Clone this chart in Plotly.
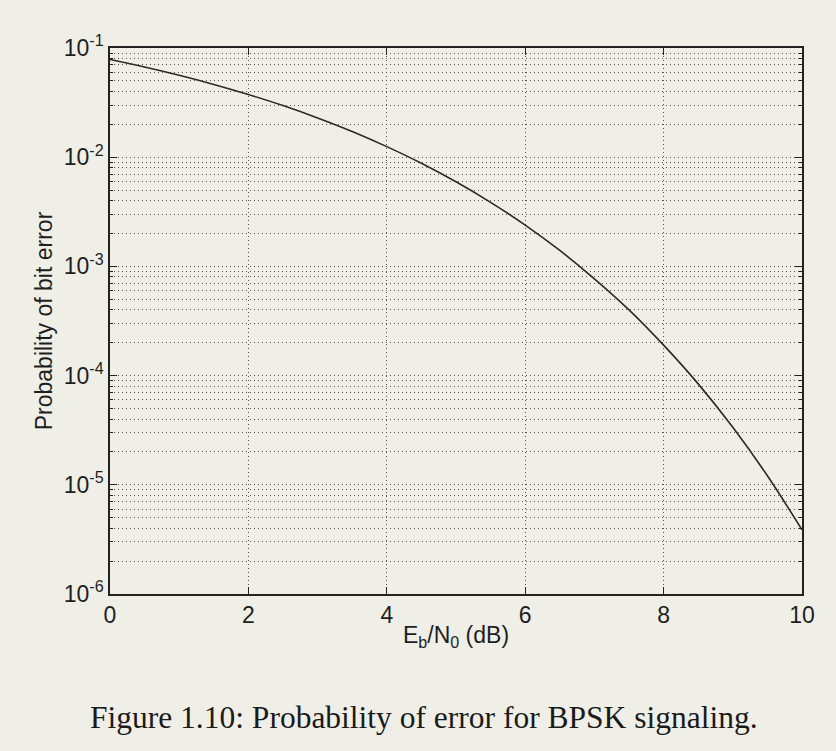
import plotly.graph_objects as go

# Eb/N0 in dB
ebn0_db = [0, 0.5, 1, 1.5, 2, 2.5, 3, 3.5, 4, 4.5, 5, 5.5, 6, 6.5, 7, 7.5, 8, 8.5, 9, 9.5, 10]
# probability of bit error
pb = [7.86e-2, 6.71e-2, 5.63e-2, 4.64e-2, 3.75e-2, 2.97e-2, 2.29e-2, 1.72e-2,
      1.25e-2, 8.8e-3, 5.95e-3, 3.86e-3, 2.39e-3, 1.40e-3, 7.7e-4, 4.0e-4,
      1.9e-4, 8.4e-5, 3.36e-5, 1.21e-5, 3.87e-6]

x_ticks = [0, 2, 4, 6, 8, 10]
y_ticks = [1e-6, 1e-5, 1e-4, 1e-3, 1e-2, 1e-1]
y_ticktext = ["10<sup>-6</sup>", "10<sup>-5</sup>", "10<sup>-4</sup>",
              "10<sup>-3</sup>", "10<sup>-2</sup>", "10<sup>-1</sup>"]

bg = "#efefe8"
gridc = "#555555"
gdash = "1px,3px"

fig = go.Figure()
fig.add_trace(go.Scatter(x=ebn0_db, y=pb, mode="lines",
                         line=dict(color="#2a2a2a", width=1.6, shape="spline"),
                         showlegend=False))

fig.update_layout(
    width=836, height=751,
    margin=dict(l=110, r=34, t=48, b=157),
    paper_bgcolor=bg, plot_bgcolor=bg,
    font=dict(family="Liberation Sans, Arial, sans-serif", size=23, color="#1e1e1e"),
    xaxis=dict(range=[0, 10], tickvals=x_ticks, ticks="inside", ticklen=7, tickcolor="#222",
               showline=True, linecolor="#222", linewidth=1.5, mirror="ticks",
               showgrid=True, gridcolor=gridc, griddash=gdash, gridwidth=1, zeroline=False,
               tickfont=dict(size=23),
               title=dict(text="E<sub>b</sub>/N<sub>0</sub> (dB)", standoff=0, font=dict(size=23))),
    yaxis=dict(type="log", range=[-6, -1], tickvals=y_ticks, ticktext=y_ticktext,
               ticks="inside", ticklen=7, tickcolor="#222",
               showline=True, linecolor="#222", linewidth=1.5, mirror="ticks",
               showgrid=True, gridcolor=gridc, griddash=gdash, gridwidth=1, zeroline=False,
               tickfont=dict(size=23),
               minor=dict(dtick="D1", showgrid=True, gridcolor=gridc, griddash=gdash, gridwidth=1,
                          ticks="inside", ticklen=3, tickcolor="#222"),
               title=dict(text="Probability of bit error", standoff=5, font=dict(size=23))),
)

fig.add_annotation(text="Figure 1.10: Probability of error for BPSK signaling.",
                   xref="paper", yref="paper", x=0.454, y=-0.226, showarrow=False,
                   xanchor="center", yanchor="middle",
                   font=dict(family="Liberation Serif, Times New Roman, serif", size=31.5, color="#1a1a1a"))

fig.write_html("out.html")
